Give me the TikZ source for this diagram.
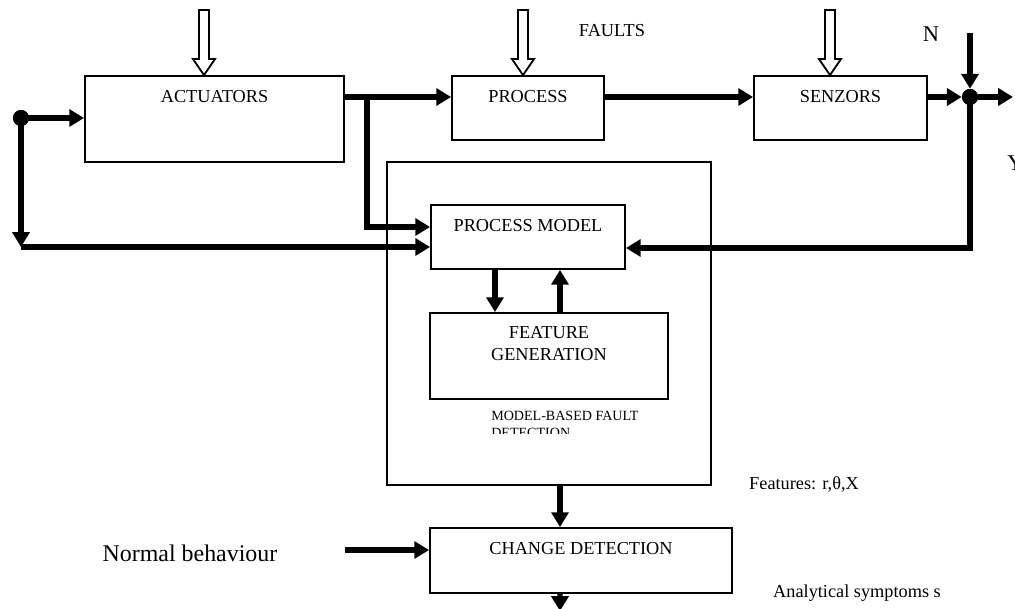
\documentclass[tikz,border=0pt]{standalone}
\usepackage{fontspec}
\setmainfont{Liberation Serif}
\usetikzlibrary{arrows.meta,positioning}

\newcommand{\faultin}[2]{%
  \draw[hollow] ([xshift=#2]#1.north) -- ++(-11,-16) -- ++(6,0) -- ++(0,-49)
    -- ++(10,0) -- ++(0,49) -- ++(6,0) -- cycle;}

\begin{document}
\begin{tikzpicture}[x=0.025cm, y=-0.025cm,
    blk/.style={draw, line width=1.3pt, inner sep=0pt, font=\fontsize{13pt}{15.6pt}\selectfont},
    lbl/.style={inner sep=0pt, font=\fontsize{13pt}{15.6pt}\selectfont},
    big/.style={inner sep=0pt, font=\fontsize{16pt}{19pt}\selectfont},
    flow/.style={line width=3.9pt, -{Triangle[length=10.5pt,width=12pt]}},
    hollow/.style={line width=1.3pt, fill=white},
    dot/.style={circle, fill, inner sep=0pt, minimum size=0.4cm}]
    \useasboundingbox (0,0) rectangle (1015,609);

    % blocks
    \node[blk, minimum width=8.1cm, minimum height=8.075cm] (mbfd) at (549,323.5) {};
    \node[blk, minimum width=6.475cm, text height=0.675cm, text depth=1.475cm] (act) at (214.5,119) {ACTUATORS};
    \node[blk, minimum width=3.8cm, text height=0.675cm, text depth=0.925cm] (proc) at (528,108) {PROCESS};
    \node[blk, minimum width=4.325cm, text height=0.675cm, text depth=0.925cm] (senz) at (840.5,108) {SENZORS};
    \node[blk, minimum width=4.85cm, text height=0.675cm, text depth=0.925cm] (pm) at (528,237) {PROCESS MODEL};
    \node[blk, minimum width=5.95cm, minimum height=2.15cm] (fg) at (549,356) {};
    \node[lbl, align=center, below=0.35cm of fg.north] (fgtxt) {FEATURE\\GENERATION};
    \node[blk, minimum width=7.55cm, text height=0.675cm, text depth=0.95cm] (cd) at (581,560.5) {CHANGE DETECTION};

    \begin{scope}
        \clip (470,400) rectangle (700,434);
        \node[inner sep=0pt, anchor=north west, align=left, font=\fontsize{10pt}{12pt}\selectfont] (mbtxt) at (491,411) {MODEL-BASED FAULT\\DETECTION};
    \end{scope}

    % labels
    \node[lbl] (faults) at (612,31) {FAULTS};
    \node[big] (n) at (931,34) {N};
    \node[big, anchor=west] (y) at (1007,163) {Y};
    \node[inner sep=0pt, font=\fontsize{17pt}{20pt}\selectfont] (nb) at (190,553) {Normal behaviour};
    \node[lbl] (feat) at (804,485) {Features: r,θ,X};
    \node[lbl] (sym) at (857,593) {Analytical symptoms s};

    % faults
    \faultin{act}{-0.2625cm}
    \faultin{proc}{-0.125cm}
    \faultin{senz}{-0.2625cm}

    % dots and free ends
    \node[dot] (ld) at (21,118) {};
    \node[dot] (jn) at (970,97) {};
    \coordinate (lc) at (21,247);
    \coordinate (br) at (367,97);
    \coordinate (nin) at (970,33);
    \coordinate (yout) at (1013,97);
    \coordinate (nbin) at (345,550);
    \coordinate (out) at (560,611);

    % connectors
    \draw[flow] (act.east |- jn) -- (proc.west |- jn);
    \draw[flow] (proc.east |- jn) -- (senz.west |- jn);
    \draw[flow] (senz.east |- jn) -- (jn.west);
    \draw[flow] (nin) -- (jn.north);
    \draw[flow] (jn.east) -- (yout);
    \draw[flow] (jn.center) |- ([yshift=-0.275cm]pm.east);
    \draw[flow] (br) |- ([yshift=0.25cm]pm.west);
    \draw[flow] (ld.center) -- (act.west |- ld);
    \draw[flow] (ld.center) -- (lc);
    \draw[flow] (lc) -- (pm.west |- lc);
    \draw[flow] ([xshift=-0.825cm]pm.south) -- ([xshift=-0.825cm]pm.south |- fg.north);
    \draw[flow] ([xshift=0.8cm]pm.south |- fg.north) -- ([xshift=0.8cm]pm.south);
    \draw[flow] ([xshift=0.275cm]mbfd.south) -- ([xshift=0.275cm]mbfd.south |- cd.north);
    \draw[flow] (nbin) -- (cd.west |- nbin);
    \draw[flow] ([xshift=-0.525cm]cd.south) -- (out);
    \node[dot] at (ld) {};
    \node[dot] at (jn) {};
\end{tikzpicture}
\end{document}
